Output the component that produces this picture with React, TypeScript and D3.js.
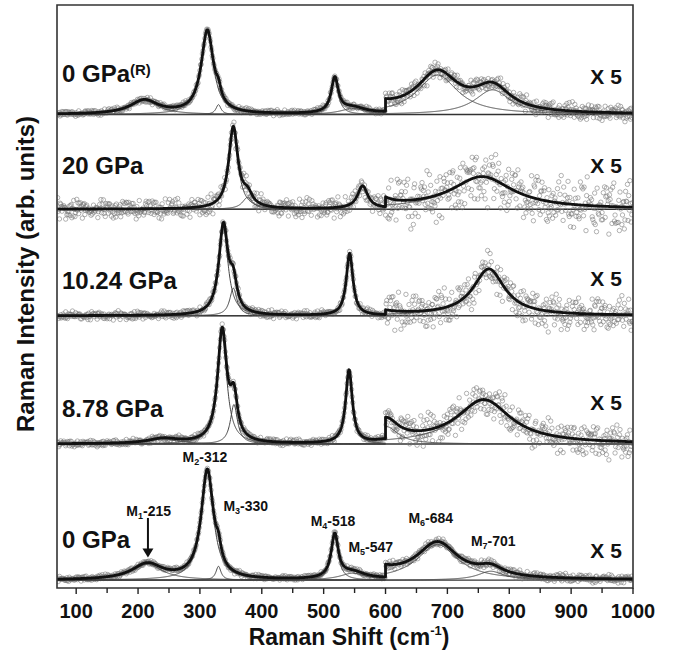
import React from 'react';
import * as d3 from 'd3';

// spectra from bottom to top of the stack
const pressures = ['0 GPa', '8.78 GPa', '10.24 GPa', '20 GPa', '0 GPa'];
const released = [false, false, false, false, true];
const offsets = [0, 1.38, 2.68, 3.76, 4.72];

// fitted Lorentzian bands: [centre (cm-1), FWHM (cm-1), height]
const bands0 = [[215, 60, 0.16], [312, 24, 1.1], [330, 10, 0.14], [518, 14, 0.44], [547, 50, 0.07], [684, 80, 0.072], [770, 50, 0.018]];
const bands878 = [[241, 60, 0.05], [336, 18, 1.13], [355, 14, 0.4], [541, 13, 0.74], [602, 45, 0.035], [759, 105, 0.088]];
const bands1024 = [[338, 18, 0.9], [354, 14, 0.28], [542, 13, 0.63], [767, 62, 0.094]];
const bands20 = [[354, 18, 0.82], [377, 20, 0.12], [563, 20, 0.23], [756, 120, 0.065]];
const bandsRel = [[210, 55, 0.14], [312, 24, 0.84], [330, 10, 0.1], [518, 14, 0.35], [547, 50, 0.06], [684, 80, 0.08], [773, 70, 0.05]];
const bands = [bands0, bands878, bands1024, bands20, bandsRel];

// spread of the measured points around the fit (below / above 600 cm-1)
const noiseLow = [0.03, 0.04, 0.05, 0.12, 0.035];
const noiseHigh = [0.05, 0.2, 0.22, 0.32, 0.1];
const residA = [0.42, -0.77, 0.15, 0.88, -0.31, -0.05, 0.63, -0.92, 0.27, -0.48, 0.71, 0.04, -0.66, 0.36, -0.19, 0.95, -0.58, 0.21, -0.84, 0.52, -0.12, 0.09, -0.39, 0.78, -0.71, 0.33, -0.25, 0.57, -0.96, 0.18, -0.44];
const residB = [-0.28, 0.61, -0.83, 0.12, 0.47, -0.55, 0.93, -0.16, 0.35, -0.69, 0.02, 0.74, -0.41, -0.08, 0.86, -0.62, 0.24, -0.97, 0.55, 0.11, -0.33, 0.68, -0.74, 0.39, -0.21, 0.81, -0.51, 0.07, -0.88, 0.46, -0.14, 0.29, -0.6, 0.97, -0.37, 0.19, -0.79];

const labelLevels = [0.33, 0.27, 0.27, 0.36, 0.33];
const x5Levels = [0.22, 0.34, 0.3, 0.37, 0.31];

// mode assignments of the ambient spectrum
const modeIdx = ['1', '2', '3', '4', '5', '6', '7'];
const modeShift = [215, 312, 330, 518, 547, 684, 701];
const modeLabelX = [181, 272, 338, 479, 540, 637, 738];
const modeLabelY = [0.65, 1.2, 0.7, 0.55, 0.28, 0.58, 0.35];

const SPLIT = 600;
const GAIN = 5;
const W = 676;
const H = 656;
const FONT = "'Liberation Sans', Arial, sans-serif";

const lor = (x: number, b: number[]) => b[2] / (1 + ((x - b[0]) / (b[1] / 2)) ** 2);
const total = (x: number, list: number[][]) => d3.sum(list, (b) => lor(x, b));

const App = () => {
  const x = d3.scaleLinear().domain([69, 1000]).range([57, 633]);
  const y = d3.scaleLinear().domain([-0.08, 5.83]).range([588, 5]);
  const line = d3.line<number[]>().x((d) => x(d[0])).y((d) => y(d[1]));

  const lowXs = d3.range(69, SPLIT, 0.5).concat(SPLIT);
  const highXs = d3.range(SPLIT, 1000.01, 0.5);
  const pointXs = d3.range(70, 1000, 1);

  const ax = x(216);
  const aTop = y(0.63);
  const aTip = y(0.23);

  return (
    <svg width={W} height={H} style={{ position: 'absolute', left: 0, top: 0, background: '#fff' }} fontFamily={FONT}>
      <defs>
        <clipPath id="plot">
          <rect x={57} y={5} width={576} height={583} />
        </clipPath>
      </defs>

      <g clipPath="url(#plot)">
        {bands.map((list, k) => {
          const off = offsets[k];
          const fit = [
            ...lowXs.map((v) => [v, off + total(v, list)]),
            ...highXs.map((v) => [v, off + GAIN * total(v, list)]),
          ];
          const pts = pointXs.map((v, i) => {
            const high = v >= SPLIT;
            const base = (high ? GAIN : 1) * total(v, list);
            const r = (residA[(i + 5 * k) % residA.length] + residB[(2 * i + 11 * k) % residB.length]) / 2;
            return [v, off + base + r * (high ? noiseHigh[k] : noiseLow[k])];
          });
          return (
            <g key={k}>
              <line x1={57} x2={633} y1={y(off)} y2={y(off)} stroke="#333" strokeWidth={1.4} />
              {pts.map((p, i) => (
                <circle key={i} cx={x(p[0])} cy={y(p[1])} r={2.2} fill="none" stroke="#777" strokeOpacity={0.7} strokeWidth={0.8} />
              ))}
              {list.map((b, j) => {
                const hi = b[0] >= SPLIT;
                const xs = hi ? highXs : lowXs;
                const d = line(xs.map((v) => [v, off + (hi ? GAIN : 1) * lor(v, b)]));
                return <path key={j} d={d || ''} fill="none" stroke="#444" strokeWidth={1} />;
              })}
              <path d={line(fit) || ''} fill="none" stroke="#111" strokeWidth={2.8} strokeLinejoin="round" />
            </g>
          );
        })}
      </g>

      {/* frame */}
      <path d="M57,5 H633 V588 H57 Z" fill="none" stroke="#333" strokeWidth={1.6} />

      {/* x axis */}
      {x.ticks(10).filter((t) => t >= 100).map((t) => (
        <g key={t}>
          <line x1={x(t)} x2={x(t)} y1={588} y2={594} stroke="#222" strokeWidth={1.4} />
          <text x={x(t)} y={618} textAnchor="middle" fontSize={20} fontWeight="bold" fill="#111">{t}</text>
        </g>
      ))}
      {d3.range(150, 1000, 100).map((t) => (
        <line key={t} x1={x(t)} x2={x(t)} y1={588} y2={593} stroke="#222" strokeWidth={1.4} />
      ))}
      <text x={(57 + 633) / 2 + 4} y={645} textAnchor="middle" fontSize={23} fontWeight="bold" fill="#111">
        Raman Shift (cm<tspan fontSize={13} dy={-10}>-1</tspan><tspan dy={10}>)</tspan>
      </text>
      <text transform="translate(34,274) rotate(-90)" textAnchor="middle" fontSize={24} fontWeight="bold" fill="#111">
        Raman Intensity (arb. units)
      </text>

      {/* spectrum labels */}
      {pressures.map((p, k) => (
        <g key={k}>
          <text x={62} y={y(offsets[k] + labelLevels[k])} fontSize={24} fontWeight="bold" fill="#111">
            {p}
            {released[k] && <tspan fontSize={15} dy={-7}>(R)</tspan>}
          </text>
          <text x={x(982)} y={y(offsets[k] + x5Levels[k])} textAnchor="end" fontSize={21} fontWeight="bold" fill="#111">X 5</text>
        </g>
      ))}

      {/* mode labels */}
      {modeIdx.map((m, i) => (
        <text key={m} x={x(modeLabelX[i])} y={y(modeLabelY[i])} fontSize={14} fontWeight="bold" fill="#111">
          M<tspan fontSize={9} dy={3}>{m}</tspan>
          <tspan dy={-3}>-{modeShift[i]}</tspan>
        </text>
      ))}
      <line x1={ax} x2={ax} y1={aTop} y2={aTip - 7} stroke="#111" strokeWidth={2} />
      <path d={`M${ax - 5.5},${aTip - 9} L${ax + 5.5},${aTip - 9} L${ax},${aTip} Z`} fill="#111" />
    </svg>
  );
};

export default App;
